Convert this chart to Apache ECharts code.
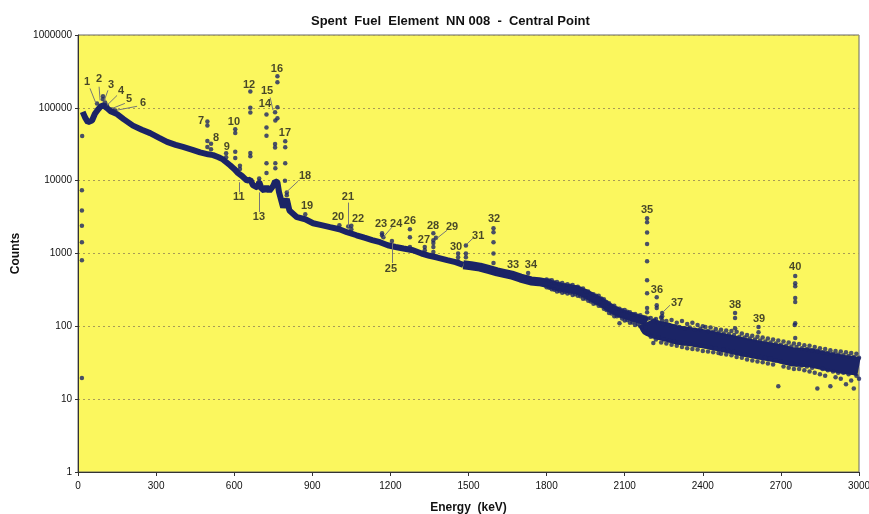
<!DOCTYPE html>
<html>
<head>
<meta charset="utf-8">
<script src="https://cdn.jsdelivr.net/npm/echarts@6/dist/echarts.min.js"></script>
<style>
html,body{margin:0;padding:0;background:#fff}
#chart{width:869px;height:514px}
</style>
</head>
<body>
<div id="chart"></div>
<script>
// continuum (background) of the spectrum, keV / counts
var contEnergy = [18,27,38,54,65,77,88,98,110,125,150,175,211,245,277,310,342,375,403,440,
  469,500,519,540,557,565,584,600,615,622,630,649,662,672,690,696,705,715,724,735,
  750,757,766,772,788,802,812,841,873,903,935,968,1004,1033,1070,1100,1130,1160,1190,1220,
  1250,1287,1320,1350,1380,1418,1450,1480,1510,1544,1580,1610,1640,1671,1700,1740,1770,1802,1830,1852,
  1880,1917,1950,1979,2010,2044,2080,2109,2140,2171,2186,2195,2224,2260,2301,2363,2428,2493,2555,2620,
  2685,2747,2812,2877,2940,2977,3000];
var contCounts = [88000,74000,63500,67000,83000,95000,105000,108000,100000,90000,
  82000,70000,57000,50000,45000,39000,34000,31000,29000,26500,
  24500,23000,22400,21000,19600,18500,16300,14500,12700,13500,
  11600,10000,10300,8700,8000,9600,7800,7300,8200,7200,
  8500,9800,9500,7000,4300,5600,3900,3150,2950,2600,
  2450,2300,2150,1960,1780,1650,1530,1430,1300,1230,
  1170,1110,1000,930,880,810,760,700,680,650,
  600,560,530,500,460,420,410,390,360,345,
  330,315,280,245,215,178,152,142,130,122,
  115,98,89,84,76,71,65,58,52,47,
  43,38,37,33,30,29,28];

// noisy high-energy part: upper and lower scatter of the band
var tailEnergy = [1800,1810,1820,1830,1840,1850,1860,1870,1880,1890,1900,1910,1920,1930,1940,1950,1960,1970,1980,1990,
  2000,2010,2020,2030,2040,2050,2060,2070,2080,2090,2100,2110,2120,2130,2140,2150,2160,2170,2180,2190,
  2200,2210,2220,2230,2240,2250,2260,2270,2280,2290,2300,2310,2320,2330,2340,2350,2360,2370,2380,2390,
  2400,2410,2420,2430,2440,2450,2460,2470,2480,2490,2500,2510,2520,2530,2540,2550,2560,2570,2580,2590,
  2600,2610,2620,2630,2640,2650,2660,2670,2680,2690,2700,2710,2720,2730,2740,2750,2760,2770,2780,2790,
  2800,2810,2820,2830,2840,2850,2860,2870,2880,2890,2900,2910,2920,2930,2940,2950,2960,2970,2980,2990,3000];
var tailHigh = [440,425,430,400,405,385,392,370,378,360,368,345,350,328,330,305,300,280,276,262,
  262,242,236,215,208,192,192,176,175,166,168,158,156,146,148,140,142,134,132,128,
  130,118,126,112,132,108,118,104,122,100,112,98,118,94,108,96,112,90,104,92,
  100,98,86,96,84,92,82,90,80,88,78,86,76,84,72,80,70,76,68,74,
  66,72,64,70,62,68,60,66,58,64,56,62,54,60,53,58,52,57,50,55,
  49,54,47,52,46,50,44,49,43,47,42,46,41,45,40,44,39,43,38,42,37];
var tailLow = [345,338,322,318,300,305,290,296,282,288,270,276,262,258,240,242,225,220,205,208,
  192,190,175,168,152,150,138,138,110,128,120,122,112,113,104,108,100,101,96,80,
  72,59,66,70,60,66,58,64,56,62,54,60,52,58,50,57,49,55,48,54,
  46,53,45,51,44,50,43,42,48,41,46,40,45,38,43,37,41,35,40,34,
  39,33,38,32,37,31,36,30,34,15,33,28,32,27,31,26,30,26,29,25,
  28,24,27,23,14,22,26,21,25,15,24,20,23,19,23,16,22,18,14,21,19];

// channels below threshold
var lowEnergy = [16,15,15,15,15,15,15];
var lowCounts = [41000,7400,3900,2400,1430,810,19.5];

// peak channels
var peakEnergy = [73,96,96,104,111,130,143,
  497,497,497,497,511,511,569,569,604,604,604,604,622,622,
  662,662,662,662,662,696,696,724,724,724,724,724,
  757,758,757,757,758,758,766,766,766,766,796,796,796,795,802,802,
  873,1004,1038,1050,1050,1168,1168,1173,1206,1275,1275,1275,1332,1332,
  1365,1365,1365,1365,1365,1375,1460,1460,1460,1490,1490,1490,
  1596,1596,1596,1596,1596,1596,1671,1671,1729,1729,
  2186,2186,2186,2186,2186,2186,2186,2186,2186,2223,2223,2223,2244,2244,2244,
  2524,2524,2524,2614,2614,2755,2755,2755,2755,2755,2755,2753,2755];
var peakCounts = [115000,144000,131000,118000,108000,95000,92000,
  65000,57000,35000,29000,32000,27000,23700,21000,50700,45000,25000,20400,16000,14500,
  168000,100000,86000,24000,21600,10700,9800,81000,53500,41500,17300,12700,
  87000,67000,31800,28600,17300,14800,272000,224000,102000,72000,34700,28700,17300,10000,6900,6300,
  3460,2450,2350,2400,2150,1900,1780,1670,1480,2150,1670,1230,1230,1110,
  1900,1520,1390,1230,1050,1650,1000,890,780,1290,1000,890,
  2230,1960,1430,1000,740,550,500,470,540,470,
  3040,2690,1950,1350,780,430,285,178,156,250,195,178,152,138,121,
  152,130,94,98,83,490,390,355,245,215,110,104,69];

// peak numbers and where their text sits
var labelText = ['1','2','3','4','5','6','7','8','9','10','11','12','13','14','15','16','17','18','19','20',
  '21','22','23','24','25','26','27','28','29','30','31','32','33','34','35','36','37','38','39','40'];
var labelEnergy = [35,81,127,165,196,250,473,530,572,599,618,657,695,718,726,764,795,872,880,999,
  1037,1076,1164,1222,1202,1275,1329,1364,1437,1452,1537,1598,1671,1740,2186,2224,2301,2524,2616,2755];
var labelCounts = [224000,246000,204000,169000,131000,115000,67000,38000,28700,63000,5900,209000,3150,112000,169000,347000,45000,11500,4450,3150,
  5900,2950,2520,2520,610,2770,1520,2360,2280,1220,1730,2950,690,690,3900,315,208,195,126,650];

// leader lines: [fromE, fromC, toE, toC]
var leaders = [[46,185000,69,115000],[81,195000,85,126000],[115,174000,100,123000],[150,148000,111,108000],
  [180,115000,131,98000],[227,105000,150,93000],[618,6900,618,9500],[695,3700,695,6900],
  [738,139000,749,93000],[845,9800,803,7100],[1037,5000,1037,2300],[1206,2300,1172,1660],
  [1206,740,1206,1380],[1418,2090,1379,1620],[1517,1620,1494,1350],[2274,195,2247,157]];

var navy = '#1b2466';
function pairs(xs, ys) { return xs.map(function (x, i) { return [x, ys[i]]; }); }
var cont = pairs(contEnergy, contCounts);
function part(a, b) { return cont.filter(function (p) { return p[0] >= a && p[0] <= b; }); }

var myChart = echarts.init(document.getElementById('chart'));
var option = {
  animation: false,
  backgroundColor: '#fff',
  title: {
    text: 'Spent  Fuel  Element  NN 008  -  Central Point',
    left: 306, top: 10,
    textStyle: {fontFamily: 'Liberation Sans', fontSize: 13, fontWeight: 'bold', color: '#111'}
  },
  grid: {left: 78, right: 10, top: 35, bottom: 42, show: true, outerBoundsMode: 'none',
    backgroundColor: '#fbf75e', borderColor: '#666', borderWidth: 1},
  xAxis: {
    type: 'value', min: 0, max: 3000, interval: 300,
    name: 'Energy  (keV)', nameLocation: 'middle', nameGap: 30,
    nameTextStyle: {fontFamily: 'Liberation Sans', fontSize: 12, fontWeight: 'bold', color: '#111'},
    axisLine: {lineStyle: {color: '#333', width: 1}},
    axisTick: {show: true, length: 4, lineStyle: {color: '#333'}},
    axisLabel: {fontFamily: 'Liberation Sans', fontSize: 10, color: '#111', margin: 9,
      formatter: function (v) { return String(v); }},
    splitLine: {show: false}
  },
  yAxis: {
    type: 'log', logBase: 10, min: 1, max: 1000000,
    name: 'Counts', nameLocation: 'middle', nameGap: 56,
    nameTextStyle: {fontFamily: 'Liberation Sans', fontSize: 12, fontWeight: 'bold', color: '#111'},
    axisLine: {show: true, lineStyle: {color: '#333', width: 1}},
    axisTick: {show: true, length: 3, lineStyle: {color: '#333'}},
    axisLabel: {fontFamily: 'Liberation Sans', fontSize: 10, color: '#111', margin: 6,
      formatter: function (v) { return String(Math.round(v)); }},
    splitLine: {show: true, lineStyle: {color: '#a89c55', type: [2, 3], width: 1}}
  },
  series: [
    {type: 'line', data: part(0, 1480), showSymbol: false, lineStyle: {color: navy, width: 6}, z: 3},
    {type: 'line', data: part(1480, 2186), showSymbol: false, lineStyle: {color: navy, width: 9}, z: 3},
    {type: 'line', data: part(2186, 3000), showSymbol: false, lineStyle: {color: navy, width: 19, join: 'round'}, z: 3},
    {type: 'scatter', data: pairs(tailEnergy, tailHigh), symbolSize: 4.5, itemStyle: {color: navy}, z: 4},
    {type: 'scatter', data: pairs(tailEnergy, tailLow), symbolSize: 4.5, itemStyle: {color: navy}, z: 4},
    {type: 'scatter', data: pairs(lowEnergy, lowCounts), symbolSize: 4.5, itemStyle: {color: navy}, z: 4},
    {type: 'scatter', data: pairs(peakEnergy, peakCounts), symbolSize: 4.5, itemStyle: {color: navy}, z: 5},
    {type: 'lines', coordinateSystem: 'cartesian2d', z: 6,
      data: leaders.map(function (l) { return {coords: [[l[0], l[1]], [l[2], l[3]]]}; }),
      lineStyle: {color: '#777', width: 1, opacity: 1}},
    {type: 'scatter', symbolSize: 0.1, z: 7, itemStyle: {color: 'rgba(0,0,0,0)'},
      data: labelText.map(function (t, i) { return {name: t, value: [labelEnergy[i], labelCounts[i]]}; }),
      label: {show: true, position: 'inside', formatter: '{b}',
        fontFamily: 'Liberation Sans', fontSize: 11, fontWeight: 'bold', color: '#1a1a1a'}}
  ]
};
myChart.setOption(option);
</script>
</body>
</html>
